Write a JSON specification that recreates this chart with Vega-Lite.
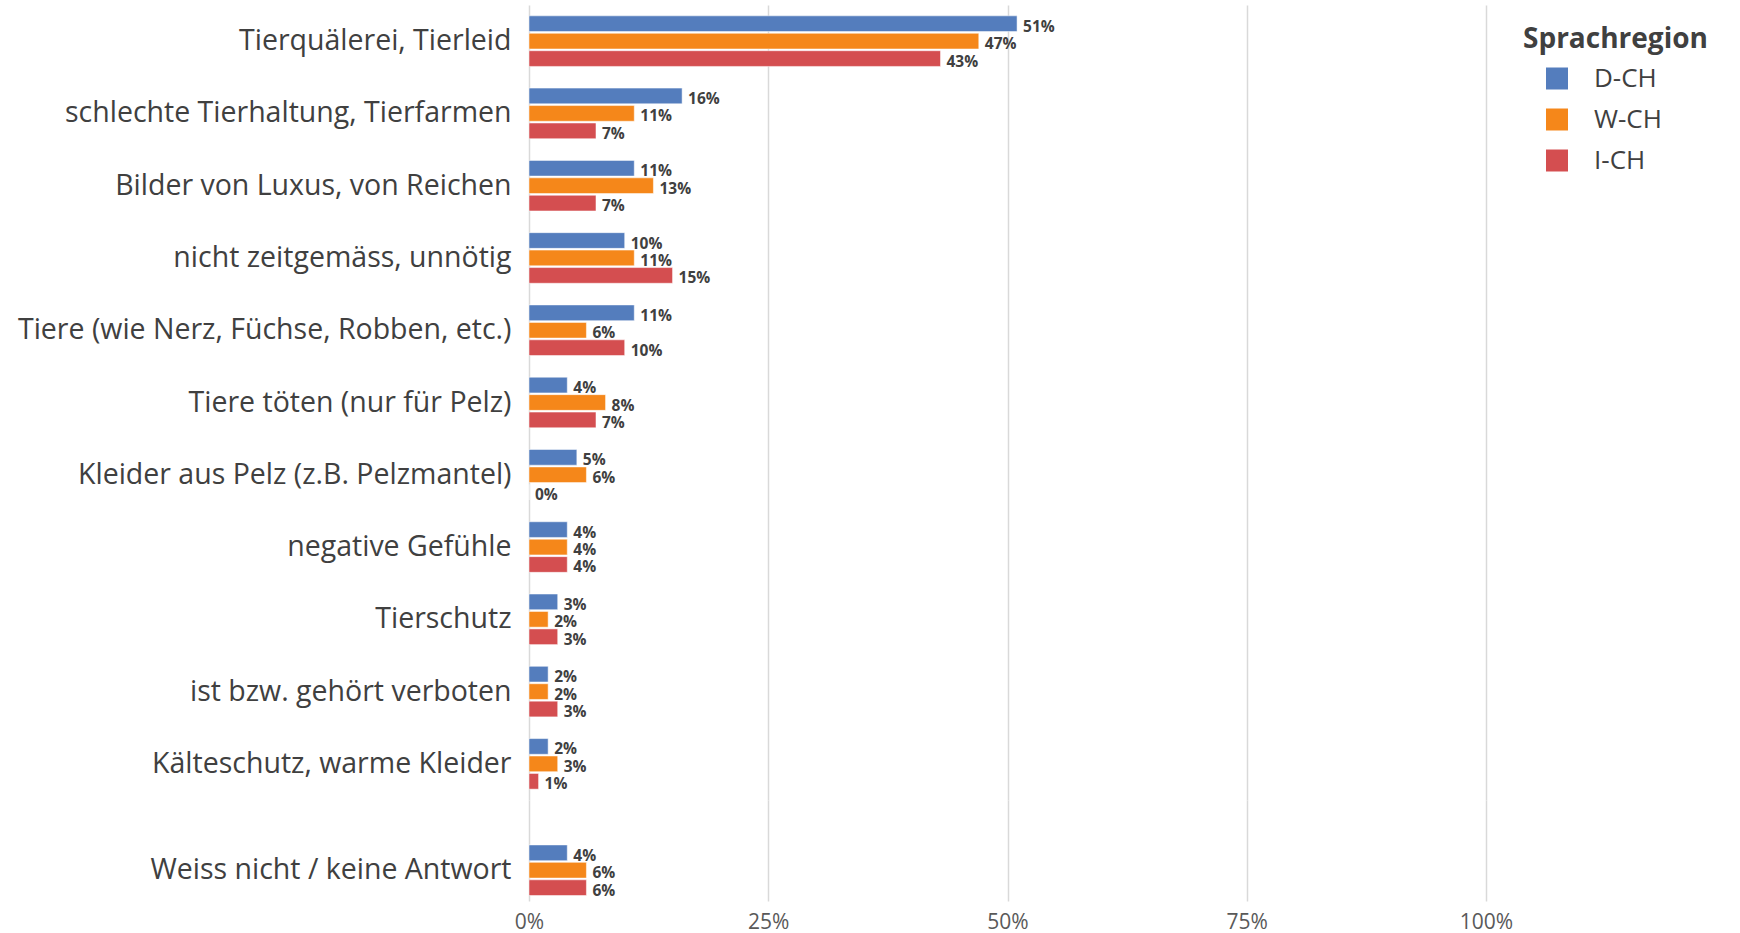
{
  "$schema": "https://vega.github.io/schema/vega-lite/v6.json",
  "background": "white",
  "padding": {"left": 17, "top": 5, "right": 5, "bottom": 5},
  "spacing": 0,
  "config": {
    "view": {"stroke": null},
    "font": "Open Sans",
    "axis": {"gridColor": "#d9d9d9", "gridWidth": 1.5}
  },
  "data": {
    "values": [
      {"cat": "Tierquälerei, Tierleid", "region": "D-CH", "value": 0.51},
      {"cat": "Tierquälerei, Tierleid", "region": "W-CH", "value": 0.47},
      {"cat": "Tierquälerei, Tierleid", "region": "I-CH", "value": 0.43},
      {"cat": "schlechte Tierhaltung, Tierfarmen", "region": "D-CH", "value": 0.16},
      {"cat": "schlechte Tierhaltung, Tierfarmen", "region": "W-CH", "value": 0.11},
      {"cat": "schlechte Tierhaltung, Tierfarmen", "region": "I-CH", "value": 0.07},
      {"cat": "Bilder von Luxus, von Reichen", "region": "D-CH", "value": 0.11},
      {"cat": "Bilder von Luxus, von Reichen", "region": "W-CH", "value": 0.13},
      {"cat": "Bilder von Luxus, von Reichen", "region": "I-CH", "value": 0.07},
      {"cat": "nicht zeitgemäss, unnötig", "region": "D-CH", "value": 0.10},
      {"cat": "nicht zeitgemäss, unnötig", "region": "W-CH", "value": 0.11},
      {"cat": "nicht zeitgemäss, unnötig", "region": "I-CH", "value": 0.15},
      {"cat": "Tiere (wie Nerz, Füchse, Robben, etc.)", "region": "D-CH", "value": 0.11},
      {"cat": "Tiere (wie Nerz, Füchse, Robben, etc.)", "region": "W-CH", "value": 0.06},
      {"cat": "Tiere (wie Nerz, Füchse, Robben, etc.)", "region": "I-CH", "value": 0.10},
      {"cat": "Tiere töten (nur für Pelz)", "region": "D-CH", "value": 0.04},
      {"cat": "Tiere töten (nur für Pelz)", "region": "W-CH", "value": 0.08},
      {"cat": "Tiere töten (nur für Pelz)", "region": "I-CH", "value": 0.07},
      {"cat": "Kleider aus Pelz (z.B. Pelzmantel)", "region": "D-CH", "value": 0.05},
      {"cat": "Kleider aus Pelz (z.B. Pelzmantel)", "region": "W-CH", "value": 0.06},
      {"cat": "Kleider aus Pelz (z.B. Pelzmantel)", "region": "I-CH", "value": 0.0},
      {"cat": "negative Gefühle", "region": "D-CH", "value": 0.04},
      {"cat": "negative Gefühle", "region": "W-CH", "value": 0.04},
      {"cat": "negative Gefühle", "region": "I-CH", "value": 0.04},
      {"cat": "Tierschutz", "region": "D-CH", "value": 0.03},
      {"cat": "Tierschutz", "region": "W-CH", "value": 0.02},
      {"cat": "Tierschutz", "region": "I-CH", "value": 0.03},
      {"cat": "ist bzw. gehört verboten", "region": "D-CH", "value": 0.02},
      {"cat": "ist bzw. gehört verboten", "region": "W-CH", "value": 0.02},
      {"cat": "ist bzw. gehört verboten", "region": "I-CH", "value": 0.03},
      {"cat": "Kälteschutz, warme Kleider", "region": "D-CH", "value": 0.02},
      {"cat": "Kälteschutz, warme Kleider", "region": "W-CH", "value": 0.03},
      {"cat": "Kälteschutz, warme Kleider", "region": "I-CH", "value": 0.01},
      {"cat": "Weiss nicht / keine Antwort", "region": "D-CH", "value": 0.04},
      {"cat": "Weiss nicht / keine Antwort", "region": "W-CH", "value": 0.06},
      {"cat": "Weiss nicht / keine Antwort", "region": "I-CH", "value": 0.06}
    ]
  },
  "vconcat": [
    {
      "width": 957,
      "height": 795,
      "transform": [{"filter": "datum.cat !== 'Weiss nicht / keine Antwort'"}],
      "encoding": {
        "y": {
          "field": "cat", "type": "nominal", "sort": null,
          "scale": {"paddingInner": 0.3, "paddingOuter": 0.15},
          "axis": {"title": null, "ticks": false, "domain": false, "labelFontSize": 28.5, "labelColor": "#404040", "labelPadding": 18, "labelLimit": 800}
        },
        "x": {
          "field": "value", "type": "quantitative",
          "scale": {"domain": [0, 1]},
          "axis": {"title": null, "labels": false, "ticks": false, "domain": false, "grid": true, "values": [0, 0.25, 0.5, 0.75, 1]}
        },
        "yOffset": {"field": "region", "sort": ["D-CH", "W-CH", "I-CH"], "scale": {"paddingInner": 0.1}},
        "color": {
          "field": "region", "type": "nominal",
          "scale": {"domain": ["D-CH", "W-CH", "I-CH"], "range": ["#547DBD", "#F5871A", "#D44E50"]},
          "legend": {"title": "Sprachregion", "orient": "right", "offset": -11, "titleFontSize": 28, "titleFontWeight": "bold", "titleColor": "#404040", "titleLimit": 500, "titlePadding": 11.5, "labelFontSize": 26, "labelColor": "#404040", "symbolType": "square", "symbolSize": 484, "symbolStrokeWidth": 0, "symbolOffset": 21, "labelOffset": 24, "rowPadding": 15, "padding": 21}
        }
      },
      "layer": [
        {"mark": {"type": "bar", "stroke": "white", "strokeWidth": 0.5}},
        {
          "mark": {"type": "text", "align": "left", "baseline": "middle", "dx": 6, "dy": 3, "fontSize": 15.5, "fontWeight": "bold", "color": "#404040"},
          "encoding": {"text": {"field": "value", "type": "quantitative", "format": ".0%"}, "color": {"value": "#404040"}}
        }
      ]
    },
    {
      "width": 957,
      "height": 101,
      "transform": [{"filter": "datum.cat === 'Weiss nicht / keine Antwort'"}],
      "encoding": {
        "y": {
          "field": "cat", "type": "nominal", "sort": null,
          "scale": {"paddingInner": 0.3, "paddingOuter": 0.342, "align": 0.9},
          "axis": {"title": null, "ticks": false, "domain": false, "labelFontSize": 28.5, "labelColor": "#404040", "labelPadding": 18, "labelLimit": 800}
        },
        "x": {
          "field": "value", "type": "quantitative",
          "scale": {"domain": [0, 1]},
          "axis": {"title": null, "format": ".0%", "ticks": false, "domain": false, "grid": true, "values": [0, 0.25, 0.5, 0.75, 1], "labelFontSize": 21, "labelColor": "#595959", "labelPadding": 10, "labelFlush": false}
        },
        "yOffset": {"field": "region", "sort": ["D-CH", "W-CH", "I-CH"], "scale": {"paddingInner": 0.1}},
        "color": {
          "field": "region", "type": "nominal",
          "scale": {"domain": ["D-CH", "W-CH", "I-CH"], "range": ["#547DBD", "#F5871A", "#D44E50"]}
        }
      },
      "layer": [
        {"mark": {"type": "bar", "stroke": "white", "strokeWidth": 0.5}},
        {
          "mark": {"type": "text", "align": "left", "baseline": "middle", "dx": 6, "dy": 3, "fontSize": 15.5, "fontWeight": "bold", "color": "#404040"},
          "encoding": {"text": {"field": "value", "type": "quantitative", "format": ".0%"}, "color": {"value": "#404040"}}
        }
      ]
    }
  ]
}
